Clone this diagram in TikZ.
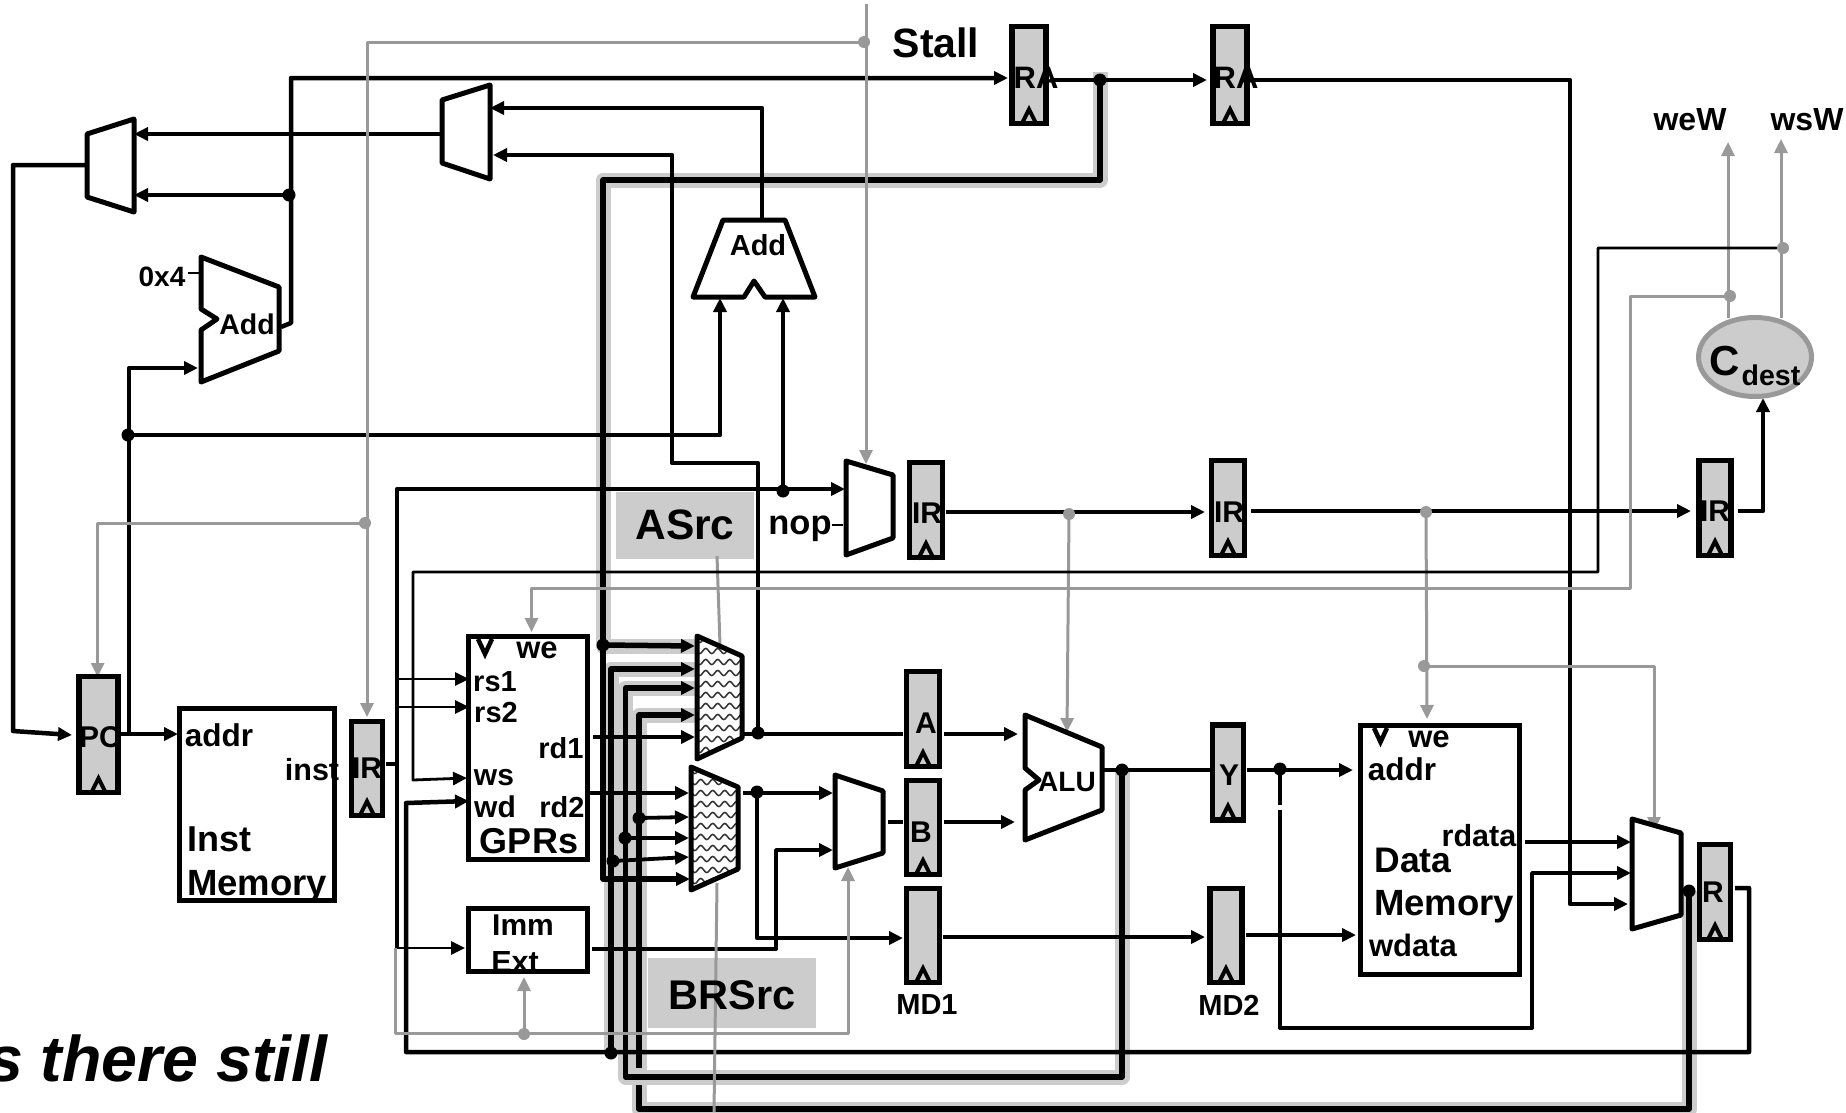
\documentclass[tikz,border=0pt]{standalone}
\usepackage{fontspec}
\setmainfont{Liberation Sans}
\usepackage{xcolor}
\usetikzlibrary{arrows.meta,positioning,calc,shapes.geometric,decorations.pathmorphing,backgrounds}
\definecolor{regfill}{HTML}{CCCCCC}
\definecolor{ctrlgray}{HTML}{999999}
\tikzset{
  >={Triangle[length=14pt,width=13pt]},
  wire/.style={line width=4.5pt,line join=round},
  bus/.style={line width=5.5pt,line join=round},
  medw/.style={line width=3.8pt,line join=round},
  thinw/.style={line width=2.8pt,line join=round},
  ctrl/.style={draw=ctrlgray,line width=3pt,line join=round},
  halo/.style={draw=regfill,line width=15pt,line join=round},
  blockp/.style={draw,fill=white,line width=5pt,line join=round},
  boxn/.style={draw,fill=white,line width=5.5pt,inner sep=0pt},
  pipereg/.style={draw,fill=regfill,line width=5.5pt,inner sep=0pt},
  clockmark/.style={line width=4pt},
  dotn/.style={circle,fill=black,inner sep=0pt,minimum size=13pt},
  cdotn/.style={circle,fill=ctrlgray,inner sep=0pt,minimum size=12pt},
  lab/.style={font=\bfseries\fontsize{#1}{#1}\selectfont,inner sep=0pt},
  waveline/.style={draw=black!80,line width=1.5pt,decorate,decoration={snake,segment length=12pt,amplitude=2.6pt}}
}
\begin{document}
\begin{tikzpicture}[x=1pt,y=-1pt]
  \useasboundingbox (0,0) rectangle (1846,1112);
  \clip (0,0) rectangle (1846,1112);
  % ports and bends
  \foreach \nm/\x/\y in {muxTa/134/134,muxTb/134/195,muxTo/87/165,muxNo/442/134,muxNa/490/108,muxNb/493/155,
      addPo/281/327,addPb/291/323,addPi/198/368,addBa/720/298,addBb/783/298,addBt/762/220,raXi/1008/78,
      pcI/72/735,pcO/121/734,pcTap/129/734,pcBend/13/731,imAddr/178/734,irdO/386/764,irdT/397/764,irdJ/397/948,
      mux3a/845/489,mux3b/672/463,rs1S/399/679,rs1I/469/679,rs2S/399/707,rs2I/469/707,immI/465/948,
      wsB1/1598/572,wsB2/413/780,wsI/467/778,rO/1735/888,rB1/1749/1052,wdB/406/803,wdI/469/801,
      b1T/603/180,muxBe/690/879,muxAa/695/646,muxAb/695/669,muxAc/695/688,muxAd/695/715,muxAe/695/737,
      b3T/625.7/1077,b4T/639/1109,b4U/639/1085,b4D/639/1068,rd1O/593/737,rd2O/590/793,
      muxBa/689/793,muxBb/689/817,muxBc/689/838,muxBd/689/857,muxAo/743/734,regAi/903/734,regAo/944/734,aluA/1018/734,
      muxBo/743/793,muxCa/833/793,md1I/903/938,immO/592/949,immB/776/850,muxCb/833/850,muxCo/888/822,regBi/903/822,
      regBo/944/822,aluB/1015/822,aluO/1102/770,regYi/1210/770,regYo/1247/770,dmAddr/1353/770,yGap/1280/805,yGo/1280/810,
      yB/1532/1028,muxRb/1631/873,md1O/943/937,md2I/1205/937,md2O/1246/935,dmW/1356/935,rdO/1525/842,muxRa/1631/842,
      raXo/1050/80,raMi/1207/80,raMo/1250/80,rmT/1570/904,muxRc/1628/904,irXo/946/512,irMi/1205/512,irMo/1251/511,
      irWi/1691/511,irWo/1738/511,cdI/1763/398,ctlTop/866/4,mux3s/866/464,irdS/367/717,pcS/97.6/677,
      gGa/395/948,gGb/848/1033,muxCs/848/867,immS/524/977,aluS/1067/732,dmS/1427/719,muxRs/1654/831,
      weO/1728/318,weT/1728/142,wsO/1781/318,wsT/1781/139,gB1/1630/588,gprS/531.5/632,asA/717/556,asB/720/645,brA/717/883,brB/714/1112}
    \coordinate (\nm) at (\x,\y);
  % junctions
  \foreach \nm/\x/\y in {jnNext/289/195,jnPC/128/435,jnNop/783/491,jnRa/1100/80,jnB1/603/645,jnBot/611/1053,jnAlu/1122/770,
      jnR/1689/891,jnH1/639/818,jnH2/625/838,jnH3/613/861,jnA/758/733,jnB/757/792,jnY/1280/769}
    \node[dotn] (\nm) at (\x,\y) {};
  % light bypass paths
  \begin{scope}[on background layer]
    \draw[halo] (1100,72) |- (b1T) |- (muxAa);
    \draw[halo] (jnBot.center) |- (muxAb);
    \draw[halo] (jnAlu.center) |- (b3T) |- (muxAc);
    \draw[halo] (jnR.center) |- (b4T) |- (muxAd);
    \fill[regfill] (616,492) rectangle (754,559);
    \fill[regfill] (648,958) rectangle (816,1028);
  \end{scope}
  % datapath
  \draw[wire,->] (addPo) -- (addPb) |- (raXi);
  \draw[wire,->] (muxNo) -- (muxTa);
  \draw[wire,->] (addPb |- jnNext) -- (muxTb);
  \draw[wire,->] (muxTo) -| (pcBend) -- (pcI);
  \draw[wire,->] (pcO) -- (imAddr);
  \draw[wire,->] (pcTap) |- (addPi);
  \draw[wire,->] (jnPC.center) -| (addBa);
  \draw[wire,->] (addBt) |- (muxNa);
  \draw[wire,->] (jnA.center) |- (mux3b) |- (muxNb);
  \draw[wire,->] (irdJ) |- (mux3a);
  \draw[wire,->] (jnNop.center) -- (addBb);
  \draw[wire] (irdO) -- (irdT);
  \draw[thinw,->] (rs1S) -- (rs1I);
  \draw[thinw,->] (rs2S) -- (rs2I);
  \draw[thinw,->] (irdJ) -- (immI);
  \draw[wire,->] (rO) -| (rB1) -| (wdB) -- (wdI);
  \draw[bus,->] (jnRa.center) |- (b1T) |- (muxBe);
  \draw[bus,->] (jnB1.center) -- (muxAa);
  \draw[bus,->] (jnBot.center) |- (muxAb);
  \draw[bus,->] (jnAlu.center) |- (b3T) |- (muxAc);
  \draw[bus] (jnR.center) |- (b4T) -- (b4U);
  \draw[bus,->] (b4D) |- (muxAd);
  \draw[medw,->] (rd1O) -- (muxAe);
  \draw[medw,->] (rd2O) -- (muxBa);
  \draw[medw,->] (jnH1.center) -- (muxBb);
  \draw[medw,->] (jnH2.center) -- (muxBc);
  \draw[medw,->] (jnH3.center) -- (muxBd);
  \draw[medw] (muxAo) -- (regAi);
  \draw[wire,->] (regAo) -- (aluA);
  \draw[wire,->] (muxBo) -- (muxCa);
  \draw[wire,->] (jnB.center) |- (md1I);
  \draw[medw,->] (immO) -| (immB) -- (muxCb);
  \draw[medw] (muxCo) -- (regBi);
  \draw[wire,->] (regBo) -- (aluB);
  \draw[wire] (aluO) -- (regYi);
  \draw[wire,->] (regYo) -- (dmAddr);
  \draw[medw] (jnY.center) -- (yGap);
  \draw[medw,->] (yGo) |- (yB) |- (muxRb);
  \draw[medw,->] (md1O) -- (md2I);
  \draw[medw,->] (md2O) -- (dmW);
  \draw[wire,->] (rdO) -- (muxRa);
  \draw[wire,->] (raXo) -- (raMi);
  \draw[wire,->] (raMo) -| (rmT) -- (muxRc);
  \draw[wire,->] (irXo) -- (irMi);
  \draw[wire,->] (irMo) -- (irWi);
  \draw[wire,->] (irWo) -| (cdI);
  % control
  \foreach \nm/\x/\y in {jnStall/864/42,jnIrd/365/523,jnImm/524/1034,jnIrx/1069/514,jnIrm/1426/512,jnMem/1424/666,jnWs/1783/248,jnWe/1730/296}
    \node[cdotn] (\nm) at (\x,\y) {};
  \draw[ctrl,->] (ctlTop) -- (mux3s);
  \draw[ctrl,->] (jnStall.center) -| (irdS);
  \draw[ctrl,->] (jnIrd.center) -| (pcS);
  \draw[ctrl,->] (gGa) |- (gGb) -- (muxCs);
  \draw[ctrl,->] (jnImm.center) -- (immS);
  \draw[ctrl,->] (jnIrx.center) -- (aluS);
  \draw[ctrl,->] (jnIrm.center) -- (dmS);
  \draw[ctrl,->] (jnMem.center) -| (muxRs);
  \draw[ctrl,->] (weO) -- (weT);
  \draw[ctrl,->] (wsO) -- (wsT);
  \draw[ctrl,->] (jnWe.center) -| (gB1) -| (gprS);
  \draw[ctrl] (asA) -- (asB);
  \draw[ctrl] (brA) -- (brB);
  \draw[thinw,->] (jnWs.west) -| (wsB1) -| (wsB2) -- (wsI);
  % muxes, adders
  \draw[blockp] (87,134) -- (134,119) -- (134,212) -- (87,197) -- cycle;
  \draw[blockp] (442,100) -- (490,85) -- (490,179) -- (442,163) -- cycle;
  \draw[blockp] (846,461) -- (893,475) -- (893,538) -- (846,555) -- cycle;
  \draw[blockp] (835,775) -- (883,791) -- (883,853) -- (835,868) -- cycle;
  \draw[blockp] (1632,819) -- (1681,833) -- (1681,915) -- (1632,929) -- cycle;
  \draw[blockp] (201,257) -- (279,287) -- (279,351) -- (201,382) -- (201,330) -- (217,319) -- (201,309) -- cycle;
  \draw[blockp] (723,220) -- (785,220) -- (815,297) -- (765,297) -- (754,281) -- (744,297) -- (693,297) -- cycle;
  \draw[blockp] (1025,715) -- (1102,747) -- (1102,810) -- (1025,840) -- (1025,790) -- (1039,780) -- (1025,768) -- cycle;
  \begin{scope}
    \clip (697,636) -- (742,656) -- (742,738) -- (697,759) -- cycle;
    \fill[white] (690,630) rectangle (750,765);
    \foreach \yy in {640,651,...,762} \draw[waveline] (690,\yy) -- (750,\yy);
  \end{scope}
  \draw[line width=5pt,line join=round] (697,636) -- (742,656) -- (742,738) -- (697,759) -- cycle;
  \begin{scope}
    \clip (691,767) -- (738,787) -- (738,869) -- (691,890) -- cycle;
    \fill[white] (685,760) rectangle (745,895);
    \foreach \yy in {771,782,...,893} \draw[waveline] (685,\yy) -- (745,\yy);
  \end{scope}
  \draw[line width=5pt,line join=round] (691,767) -- (738,787) -- (738,869) -- (691,890) -- cycle;
  % pipeline registers
  \foreach \nm/\x/\y/\w/\h in {regPC/98.5/734.5/39/116,regIRd/367/768.5/31/94,regRAx/1029/75/34/97,regRAm/1230/75/34/97,
      regIRx/926/510/33/95,regIRm/1228/508/33/95,regIRw/1715/508/32/95,regA/923/719/33/95,regB/923/827.5/33/94,
      regMD1/923/935.5/33/94,regY/1228/772.5/31/95,regMD2/1226/935.5/32/94,regR/1715/892/31/95}
  {
    \node[pipereg,minimum width=\w pt,minimum height=\h pt] (\nm) at (\x,\y) {};
    \draw[clockmark] ($(\nm.south)+(-8,-1)$) -- ++(8,-16) -- ++(8,16);
  }
  % memories
  \node[boxn,minimum width=155pt,minimum height=192pt] (instMem) at (257,804.5) {};
  \node[boxn,minimum width=119pt,minimum height=223pt] (gprBox) at (528,748) {};
  \node[boxn,minimum width=119pt,minimum height=63pt] (immBox) at (528,940) {};
  \node[boxn,minimum width=159pt,minimum height=249pt] (dataMem) at (1440,850) {};
  \draw[line width=4.5pt] (478,639) -- (485,654) -- (492,639);
  \draw[line width=4.5pt] (1374,728) -- (1380.5,742) -- (1387,728);
  \node[ellipse,draw=ctrlgray,fill=regfill,line width=5pt,minimum width=113pt,minimum height=79pt,inner sep=0pt] (cdest) at (1755,357) {};
  \draw[thinw] (188,273) -- (201,273);
  \draw[thinw] (832,525) -- (843,525);
  % text
  \node[lab=41] (stallT) at (936,43) {Stall};
  \node[lab=28] (oxT) at (162,277) {0x4};
  \node[lab=28.5] (addPT) at (247,324) {Add};
  \node[lab=29] (addBT) at (758,245) {Add};
  \node[lab=31] (raXT) at (1036,78) {RA};
  \node[lab=31] (raMT) at (1236,78) {RA};
  \node[lab=42.5] (asrcT) at (685,525) {ASrc};
  \node[lab=34.5] (nopT) at (800,529) {nop};
  \node[lab=41.5] (brsrcT) at (732,995) {BRSrc};
  \node[lab=30] (irXT) at (927,513) {IR};
  \node[lab=30] (irMT) at (1229,512) {IR};
  \node[lab=30] (irWT) at (1715,511) {IR};
  \node[lab=30] (irDT) at (367,768) {IR};
  \node[lab=30] (pcT) at (100,737) {PC};
  \node[lab=32] (weWT) at (1690,120) {weW};
  \node[lab=32] (wsWT) at (1807,120) {wsW};
  \node[lab=42] (cT) at (1725,361) {C};
  \node[lab=28.5] (destT) at (1771,375) {dest};
  \node[lab=31.5] (addrT) at (219,735) {addr};
  \node[lab=30.5] (instT) at (312,770) {inst};
  \node[lab=36,anchor=west] (instMT) at (187,839) {Inst};
  \node[lab=36.5,anchor=west] (memMT) at (187,887) {Memory};
  \node[lab=31] (weT1) at (537,650) {we};
  \node[lab=29] (rs1T) at (495,682) {rs1};
  \node[lab=29] (rs2T) at (496,713) {rs2};
  \node[lab=29] (rd1T) at (561,748) {rd1};
  \node[lab=30] (wsT1) at (494,778) {ws};
  \node[lab=30] (wdT1) at (495,807) {wd};
  \node[lab=29] (rd2T) at (562,807) {rd2};
  \node[lab=36] (gprT) at (529,841) {GPRs};
  \node[lab=30] (immT) at (523,925) {Imm};
  \node[lab=30.5] (extT) at (515,962) {Ext};
  \node[lab=30] (aT) at (926,723) {A};
  \node[lab=30] (bT) at (921,832) {B};
  \node[lab=29] (md1T) at (927,1005) {MD1};
  \node[lab=29] (md2T) at (1229,1005) {MD2};
  \node[lab=28] (aluT) at (1067,782) {ALU};
  \node[lab=30] (yT) at (1229,775) {Y};
  \node[lab=30] (rT) at (1713,892) {R};
  \node[lab=31] (weT2) at (1429,739) {we};
  \node[lab=31.5] (addrT2) at (1402,769) {addr};
  \node[lab=30.5] (rdataT) at (1479,836) {rdata};
  \node[lab=35.5] (dataT) at (1413,860) {Data};
  \node[lab=36.5] (memT2) at (1444,907) {Memory};
  \node[lab=31] (wdataT) at (1413,945) {wdata};
  \node[font=\bfseries\itshape\fontsize{64.5}{64.5}\selectfont,inner sep=0pt,anchor=base east] (stillT) at (328,1081) {s there still};
\end{tikzpicture}
\end{document}
